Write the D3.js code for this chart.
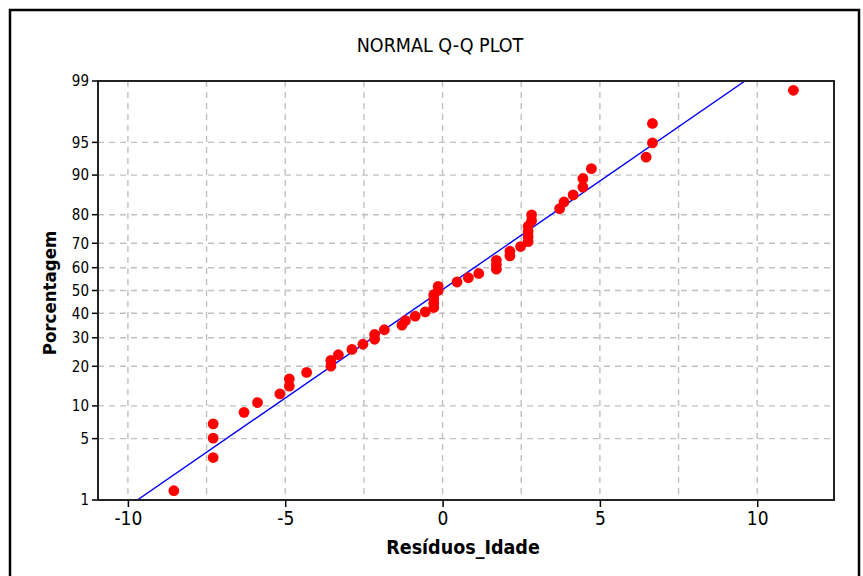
<!DOCTYPE html>
<html>
<head>
<meta charset="utf-8">
<script src="https://cdn.jsdelivr.net/npm/d3@7"></script>
<style>
  html, body { margin: 0; padding: 0; background: #fff; }
  svg { display: block; }
  text { font-family: "DejaVu Sans Condensed", "DejaVu Sans", sans-serif; fill: #000; }
</style>
</head>
<body>
<svg id="chart" width="863" height="576"></svg>
<script>
// ---- data ----
const residuals = [
  -8.54, -7.29, -7.29, -7.29, -6.31, -5.88, -5.17, -4.87, -4.87, -4.32,
  -3.55, -3.55, -3.31, -2.88, -2.53, -2.16, -2.16, -1.85, -1.29, -1.18,
  -0.87, -0.55, -0.28, -0.28, -0.28, -0.28, -0.14, -0.14, 0.46, 0.82,
  1.15, 1.71, 1.71, 1.71, 2.14, 2.14, 2.48, 2.72, 2.72, 2.72,
  2.72, 2.83, 2.83, 3.72, 3.86, 4.15, 4.46, 4.46, 4.73, 6.47,
  6.67, 6.67, 11.15
];
const percents = [
  1.31, 3.18, 5.06, 6.93, 8.80, 10.67, 12.55, 14.42, 16.29, 18.16,
  20.04, 21.91, 23.78, 25.66, 27.53, 29.40, 31.27, 33.15, 35.02, 36.89,
  38.76, 40.64, 42.51, 44.38, 46.25, 48.13, 50.00, 51.87, 53.75, 55.62,
  57.49, 59.36, 61.24, 63.11, 64.98, 66.85, 68.73, 70.60, 72.47, 74.34,
  76.22, 78.09, 79.96, 81.84, 83.71, 85.58, 87.45, 89.33, 91.20, 93.07,
  94.94, 96.82, 98.69
];
const fitLineX = [-9.70, 9.61];
const fitLineP = [1, 99];
const xTicks = [-10, -5, 0, 5, 10];
const xGrid = [-10, -7.5, -5, -2.5, 0, 2.5, 5, 7.5, 10];
const yTicks = [1, 5, 10, 20, 30, 40, 50, 60, 70, 80, 90, 95, 99];
const titleText = "NORMAL Q-Q PLOT";
const xTitle = "Resíduos_Idade";
const yTitle = "Porcentagem";

// inverse standard normal CDF (Acklam)
function probit(p) {
  const a = [-3.969683028665376e+01, 2.209460984245205e+02, -2.759285104469687e+02, 1.383577518672690e+02, -3.066479806614716e+01, 2.506628277459239e+00];
  const b = [-5.447609879822406e+01, 1.615858368580409e+02, -1.556989798598866e+02, 6.680131188771972e+01, -1.328068155288572e+01];
  const c = [-7.784894002430293e-03, -3.223964580411365e-01, -2.400758277161838e+00, -2.549732539343734e+00, 4.374664141464968e+00, 2.938163982698783e+00];
  const d = [7.784695709041462e-03, 3.224671290700398e-01, 2.445134137142996e+00, 3.754408661907416e+00];
  const pl = 0.02425, ph = 1 - pl;
  let q, r;
  if (p < pl) {
    q = Math.sqrt(-2 * Math.log(p));
    return (((((c[0]*q+c[1])*q+c[2])*q+c[3])*q+c[4])*q+c[5]) / ((((d[0]*q+d[1])*q+d[2])*q+d[3])*q+1);
  } else if (p <= ph) {
    q = p - 0.5; r = q * q;
    return (((((a[0]*r+a[1])*r+a[2])*r+a[3])*r+a[4])*r+a[5])*q / (((((b[0]*r+b[1])*r+b[2])*r+b[3])*r+b[4])*r+1);
  } else {
    q = Math.sqrt(-2 * Math.log(1 - p));
    return -(((((c[0]*q+c[1])*q+c[2])*q+c[3])*q+c[4])*q+c[5]) / ((((d[0]*q+d[1])*q+d[2])*q+d[3])*q+1);
  }
}

const svg = d3.select("#chart");
const L = 98, T = 81, R = 834, B = 500;

const x = d3.scaleLinear().domain([-10.95, 12.44]).range([L, R]);
const zScale = d3.scaleLinear().domain([probit(0.01), probit(0.99)]).range([B, T]);
const y = p => zScale(probit(p / 100));

// outer frame
svg.append("rect")
  .attr("x", 10).attr("y", 10).attr("width", 849).attr("height", 620)
  .attr("fill", "none").attr("stroke", "#000").attr("stroke-width", 2.5);

// title
svg.append("text")
  .attr("x", 440).attr("y", 52).attr("text-anchor", "middle")
  .attr("font-size", 19.5).text(titleText);

// grid
const grid = svg.append("g").attr("stroke", "#c0c0c0").attr("stroke-width", 1.4)
  .attr("stroke-dasharray", "6,5");
grid.selectAll("line.gx").data(xGrid).enter().append("line")
  .attr("x1", d => x(d)).attr("x2", d => x(d)).attr("y1", T).attr("y2", B);
grid.selectAll("line.gy").data(yTicks.filter(d => d > 1 && d < 99)).enter().append("line")
  .attr("x1", L).attr("x2", R).attr("y1", d => y(d)).attr("y2", d => y(d));

// fitted line
svg.append("clipPath").attr("id", "clip").append("rect")
  .attr("x", L).attr("y", T).attr("width", R - L).attr("height", B - T);
svg.append("line")
  .attr("clip-path", "url(#clip)")
  .attr("x1", x(fitLineX[0])).attr("y1", y(fitLineP[0]))
  .attr("x2", x(fitLineX[1])).attr("y2", y(fitLineP[1]))
  .attr("stroke", "#0000ff").attr("stroke-width", 1.4);

// points
svg.append("g").selectAll("circle").data(residuals).enter().append("circle")
  .attr("cx", d => x(d)).attr("cy", (d, i) => y(percents[i]))
  .attr("r", 5.4).attr("fill", "#ff0000");

// axes
const xAxis = d3.axisBottom(x).tickValues(xTicks).tickSize(7).tickPadding(5)
  .tickFormat(d3.format("d"));
const gx = svg.append("g").attr("transform", `translate(0,${B})`).call(xAxis);
gx.select(".domain").remove();
gx.selectAll(".tick line").attr("stroke", "#000").attr("stroke-width", 1.5);
gx.selectAll(".tick text").attr("font-size", 19)
  .attr("font-family", '"DejaVu Sans Condensed", "DejaVu Sans", sans-serif')
  .text(d => d < 0 ? "-" + Math.abs(d) : d);

const gy = svg.append("g").attr("transform", `translate(${L},0)`);
const yt = gy.selectAll("g.tick").data(yTicks).enter().append("g")
  .attr("transform", d => `translate(0,${y(d)})`);
yt.append("line").attr("x1", -6).attr("x2", 0).attr("stroke", "#000").attr("stroke-width", 1.5);
yt.append("text").attr("x", -9).attr("dy", "0.36em").attr("text-anchor", "end")
  .attr("font-size", 15).text(d => d);

// plot box
svg.append("rect").attr("x", L).attr("y", T).attr("width", R - L).attr("height", B - T)
  .attr("fill", "none").attr("stroke", "#222").attr("stroke-width", 2);

// axis titles
svg.append("text").attr("x", 463).attr("y", 554).attr("text-anchor", "middle")
  .attr("font-size", 19.5).attr("font-weight", "bold").text(xTitle);
svg.append("text").attr("transform", "translate(56,293) rotate(-90)")
  .attr("text-anchor", "middle").attr("font-size", 18.5).attr("font-weight", "bold").text(yTitle);
</script>
</body>
</html>
